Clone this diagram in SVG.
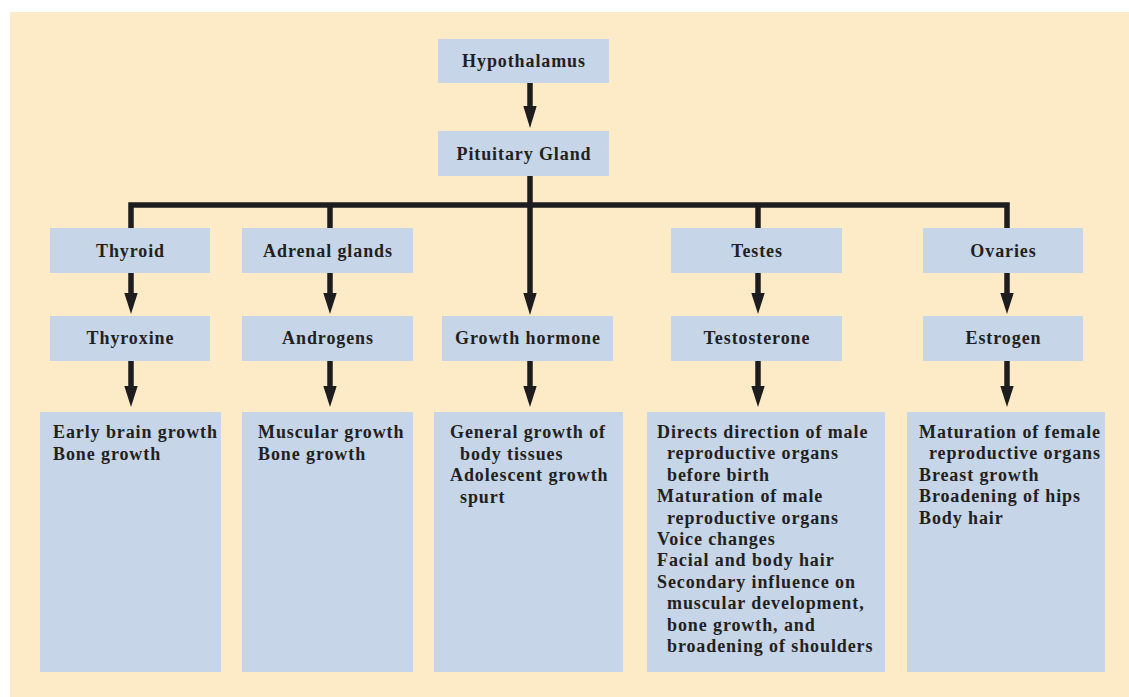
<svg xmlns="http://www.w3.org/2000/svg" width="1129" height="697" viewBox="0 0 1129 697">
<style>
.bg{fill:#FDEBC8}
.box{fill:#C6D5E8}
.lbl{font-family:"Liberation Serif","Times New Roman",serif;font-weight:bold;font-size:18px;letter-spacing:0.9px;fill:#231F20}
.c{text-anchor:middle}
.ln{fill:none;stroke:#1D1D1F;stroke-width:5.5;stroke-linejoin:miter;stroke-linecap:butt}
.ah{fill:#1D1D1F}
</style>
<rect class="bg" x="10" y="12" width="1119" height="685"/>
<g id="connectors">
<path class="ln" d="M530,83 V108"/>
<polygon class="ah" points="523.3,106 536.7,106 530,128"/>
<path class="ln" d="M530,176 V205"/>
<path class="ln" d="M131,228 V205 H1007 V228"/>
<path class="ln" d="M330,205 V228"/>
<path class="ln" d="M758,205 V228"/>
<path class="ln" d="M530,205 V295"/>
<polygon class="ah" points="523.3,293 536.7,293 530,315"/>
<path class="ln" d="M131,273 V295"/>
<polygon class="ah" points="124.3,293 137.7,293 131,314"/>
<path class="ln" d="M330,273 V295"/>
<polygon class="ah" points="323.3,293 336.7,293 330,314"/>
<path class="ln" d="M758,273 V295"/>
<polygon class="ah" points="751.3,293 764.7,293 758,314"/>
<path class="ln" d="M1007,273 V295"/>
<polygon class="ah" points="1000.3,293 1013.7,293 1007,314"/>
<path class="ln" d="M131,361 V388"/>
<polygon class="ah" points="124.3,386 137.7,386 131,407"/>
<path class="ln" d="M330,361 V388"/>
<polygon class="ah" points="323.3,386 336.7,386 330,407"/>
<path class="ln" d="M530,361 V388"/>
<polygon class="ah" points="523.3,386 536.7,386 530,407"/>
<path class="ln" d="M758,361 V388"/>
<polygon class="ah" points="751.3,386 764.7,386 758,407"/>
<path class="ln" d="M1007,361 V388"/>
<polygon class="ah" points="1000.3,386 1013.7,386 1007,407"/>
</g>
<g id="hypothalamus"><rect class="box" x="438" y="39" width="171" height="44"/><text class="lbl c" x="524" y="67">Hypothalamus</text></g>
<g id="pituitary"><rect class="box" x="438" y="131" width="171" height="45"/><text class="lbl c" x="524" y="160">Pituitary Gland</text></g>
<g id="thyroid"><rect class="box" x="50" y="228" width="160" height="45"/><text class="lbl c" x="130.5" y="257">Thyroid</text></g>
<g id="adrenal"><rect class="box" x="242" y="228" width="171" height="45"/><text class="lbl c" x="328" y="257">Adrenal glands</text></g>
<g id="testes"><rect class="box" x="671" y="228" width="171" height="45"/><text class="lbl c" x="757" y="257">Testes</text></g>
<g id="ovaries"><rect class="box" x="923" y="228" width="160" height="45"/><text class="lbl c" x="1003.5" y="257">Ovaries</text></g>
<g id="thyroxine"><rect class="box" x="50" y="316" width="160" height="45"/><text class="lbl c" x="130.5" y="344">Thyroxine</text></g>
<g id="androgens"><rect class="box" x="242" y="316" width="171" height="45"/><text class="lbl c" x="328" y="344">Androgens</text></g>
<g id="growth-hormone"><rect class="box" x="442" y="316" width="171" height="45"/><text class="lbl c" x="528" y="344">Growth hormone</text></g>
<g id="testosterone"><rect class="box" x="671" y="316" width="171" height="45"/><text class="lbl c" x="757" y="344">Testosterone</text></g>
<g id="estrogen"><rect class="box" x="923" y="316" width="160" height="45"/><text class="lbl c" x="1003.5" y="344">Estrogen</text></g>
<g id="thyroxine-effects"><rect class="box" x="40" y="412" width="181" height="260"/>
<text class="lbl" x="53" y="438">Early brain growth</text>
<text class="lbl" x="53" y="459.5">Bone growth</text></g>
<g id="androgens-effects"><rect class="box" x="242" y="412" width="171" height="260"/>
<text class="lbl" x="258" y="438">Muscular growth</text>
<text class="lbl" x="258" y="459.5">Bone growth</text></g>
<g id="growth-effects"><rect class="box" x="434" y="412" width="189" height="260"/>
<text class="lbl" x="450" y="438">General growth of</text>
<text class="lbl" x="460" y="459.5">body tissues</text>
<text class="lbl" x="450" y="481">Adolescent growth</text>
<text class="lbl" x="460" y="502.5">spurt</text></g>
<g id="testosterone-effects"><rect class="box" x="647" y="412" width="238" height="260"/>
<text class="lbl" x="657" y="438">Directs direction of male</text>
<text class="lbl" x="667" y="459.4">reproductive organs</text>
<text class="lbl" x="667" y="480.8">before birth</text>
<text class="lbl" x="657" y="502.2">Maturation of male</text>
<text class="lbl" x="667" y="523.6">reproductive organs</text>
<text class="lbl" x="657" y="545">Voice changes</text>
<text class="lbl" x="657" y="566.4">Facial and body hair</text>
<text class="lbl" x="657" y="587.8">Secondary influence on</text>
<text class="lbl" x="667" y="609.2">muscular development,</text>
<text class="lbl" x="667" y="630.6">bone growth, and</text>
<text class="lbl" x="667" y="652">broadening of shoulders</text></g>
<g id="estrogen-effects"><rect class="box" x="907" y="412" width="198" height="260"/>
<text class="lbl" x="919" y="438">Maturation of female</text>
<text class="lbl" x="929" y="459.4">reproductive organs</text>
<text class="lbl" x="919" y="480.8">Breast growth</text>
<text class="lbl" x="919" y="502.2">Broadening of hips</text>
<text class="lbl" x="919" y="523.6">Body hair</text></g>
</svg>
